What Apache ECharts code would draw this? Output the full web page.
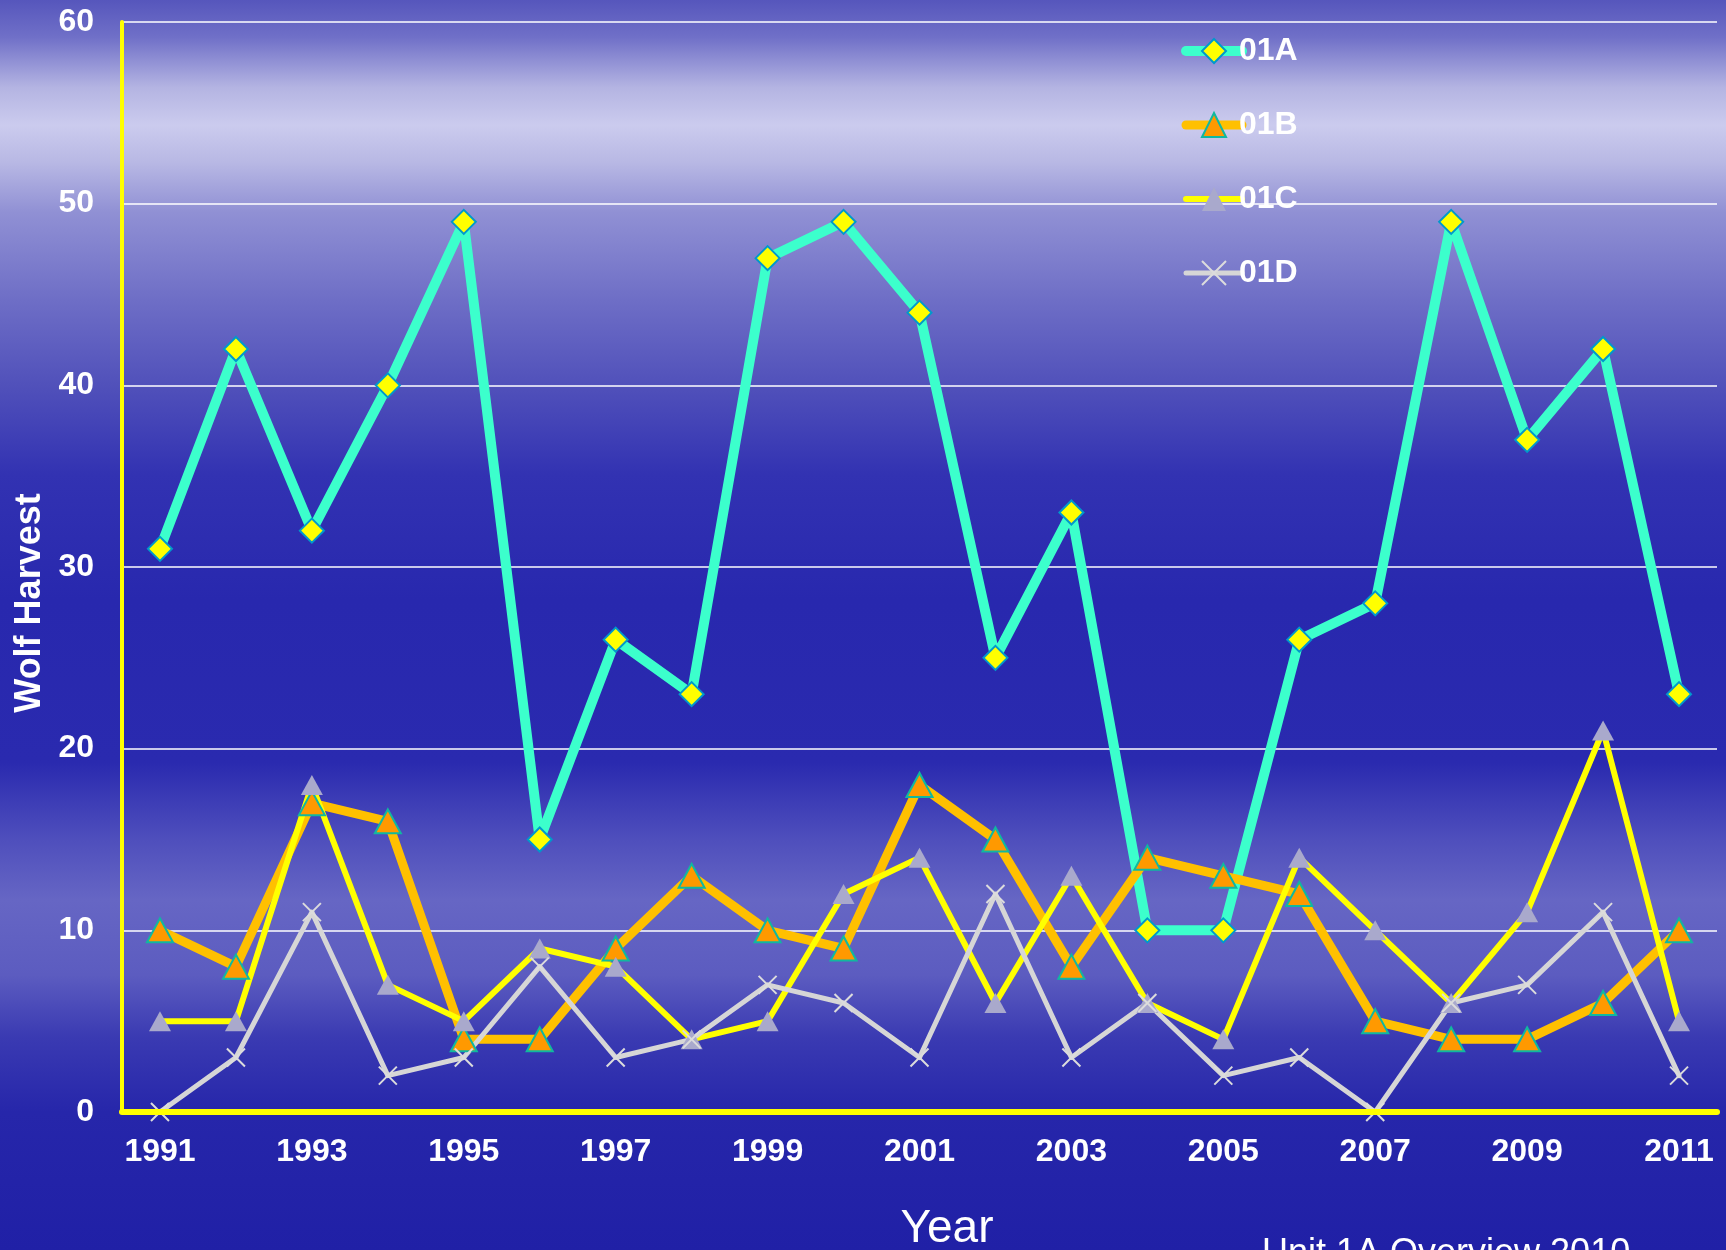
<!DOCTYPE html>
<html>
<head>
<meta charset="utf-8">
<script src="https://cdn.jsdelivr.net/npm/echarts@6/dist/echarts.min.js"></script>
<style>
html,body{margin:0;padding:0;background:#2424a8;}
#chart{width:1726px;height:1250px;}
</style>
</head>
<body>
<div id="chart"></div>
<script>
var years = ['1991','1992','1993','1994','1995','1996','1997','1998','1999','2000','2001','2002','2003','2004','2005','2006','2007','2008','2009','2010','2011'];
var s01A = [31,42,32,40,49,15,26,23,47,49,44,25,33,10,10,26,28,49,37,42,23];
var s01B = [10,8,17,16,4,4,9,13,10,9,18,15,8,14,13,12,5,4,4,6,10];
var s01C = [5,5,18,7,5,9,8,4,5,12,14,6,13,6,4,14,10,6,11,21,5];
var s01D = [0,3,11,2,3,8,3,4,7,6,3,12,3,6,2,3,0,6,7,11,2];
var seriesNames = ['01A','01B','01C','01D'];
var yTicks = [0,10,20,30,40,50,60];
var yAxisTitle = 'Wolf Harvest';
var xAxisTitle = 'Year';
var footnote = 'Unit 1A Overview 2010';

var FONT = '"Liberation Sans", Arial, sans-serif';
var chart = echarts.init(document.getElementById('chart'), null, {renderer:'canvas'});

var bg = new echarts.graphic.LinearGradient(0,0,0,1,[
  {offset:0.00,color:'#5656bc'},
  {offset:0.03,color:'#7070c8'},
  {offset:0.07,color:'#b4b4e2'},
  {offset:0.10,color:'#cbcbee'},
  {offset:0.13,color:'#b8b8e4'},
  {offset:0.17,color:'#9090d4'},
  {offset:0.24,color:'#6e6ec6'},
  {offset:0.31,color:'#5050ba'},
  {offset:0.38,color:'#3232b2'},
  {offset:0.48,color:'#2828ae'},
  {offset:0.61,color:'#2a2aaf'},
  {offset:0.67,color:'#4e4ebc'},
  {offset:0.72,color:'#6666c4'},
  {offset:0.78,color:'#5c5cc0'},
  {offset:0.83,color:'#3a3ab2'},
  {offset:0.89,color:'#2626aa'},
  {offset:1.00,color:'#2020a6'}
]);

var xPath = 'path://M0,0L20,20M20,0L0,20';

chart.setOption({
  backgroundColor: bg,
  animation: false,
  textStyle: {fontFamily: FONT},
  grid: {left:122, right:9, top:22, bottom:138, containLabel:false},
  legend: {
    orient:'vertical', left:1176, top:30, itemGap:42,
    itemWidth:56, itemHeight:30,
    data: seriesNames,
    lineStyle:{width:'inherit', cap:'round'},
    textStyle:{color:'#ffffff', fontSize:32, fontWeight:'bold', fontFamily:FONT, lineHeight:32, padding:[0,0,0,-8]}
  },
  xAxis: {
    type:'category', data: years, boundaryGap:true,
    axisLine:{show:true, lineStyle:{color:'#ffff00', width:6}},
    axisTick:{show:false},
    axisLabel:{interval:1, color:'#ffffff', fontSize:32, fontWeight:'bold', fontFamily:FONT, margin:24},
    splitLine:{show:false}, z:5
  },
  yAxis: {
    type:'value', min:yTicks[0], max:yTicks[yTicks.length-1], interval:10,
    axisLine:{show:true, lineStyle:{color:'#ffff00', width:4}},
    axisTick:{show:false},
    axisLabel:{color:'#ffffff', fontSize:32, fontWeight:'bold', fontFamily:FONT, margin:28},
    splitLine:{show:true, lineStyle:{color:'#ffffff', width:1.5}}
  },
  graphic: [
    {type:'text', x:30, y:603, rotation:Math.PI/2, style:{text:yAxisTitle, fill:'#ffffff', font:'bold 36px '+FONT, align:'center', verticalAlign:'middle'}},
    {type:'text', x:947, y:1229, style:{text:xAxisTitle, fill:'#ffffff', font:'46px '+FONT, align:'center', verticalAlign:'middle'}},
    {type:'text', x:1262, y:1236, style:{text:footnote, fill:'#ffffff', font:'36px '+FONT, align:'left', verticalAlign:'top'}}
  ],
  series: [
    {name:'01A', type:'line', data:s01A, symbol:'diamond', symbolSize:24,
     lineStyle:{color:'#3cffcc', width:10, cap:'round', join:'round'},
     itemStyle:{color:'#ffff00', borderColor:'#0099cc', borderWidth:2}},
    {name:'01B', type:'line', data:s01B, symbol:'triangle', symbolSize:[26,24],
     lineStyle:{color:'#ffc000', width:9, cap:'round', join:'round'},
     itemStyle:{color:'#ff9900', borderColor:'#10b8a0', borderWidth:2}},
    {name:'01C', type:'line', data:s01C, symbol:'triangle', symbolSize:[22,20],
     lineStyle:{color:'#ffff00', width:6, cap:'round', join:'round'},
     itemStyle:{color:'#a9a9cc', borderWidth:0}},
    {name:'01D', type:'line', data:s01D, symbol:xPath, symbolSize:18,
     lineStyle:{color:'#d6d6d6', width:5, cap:'round', join:'round'},
     itemStyle:{color:'rgba(0,0,0,0)', borderColor:'#dcdcdc', borderWidth:2}}
  ]
});
</script>
</body>
</html>
